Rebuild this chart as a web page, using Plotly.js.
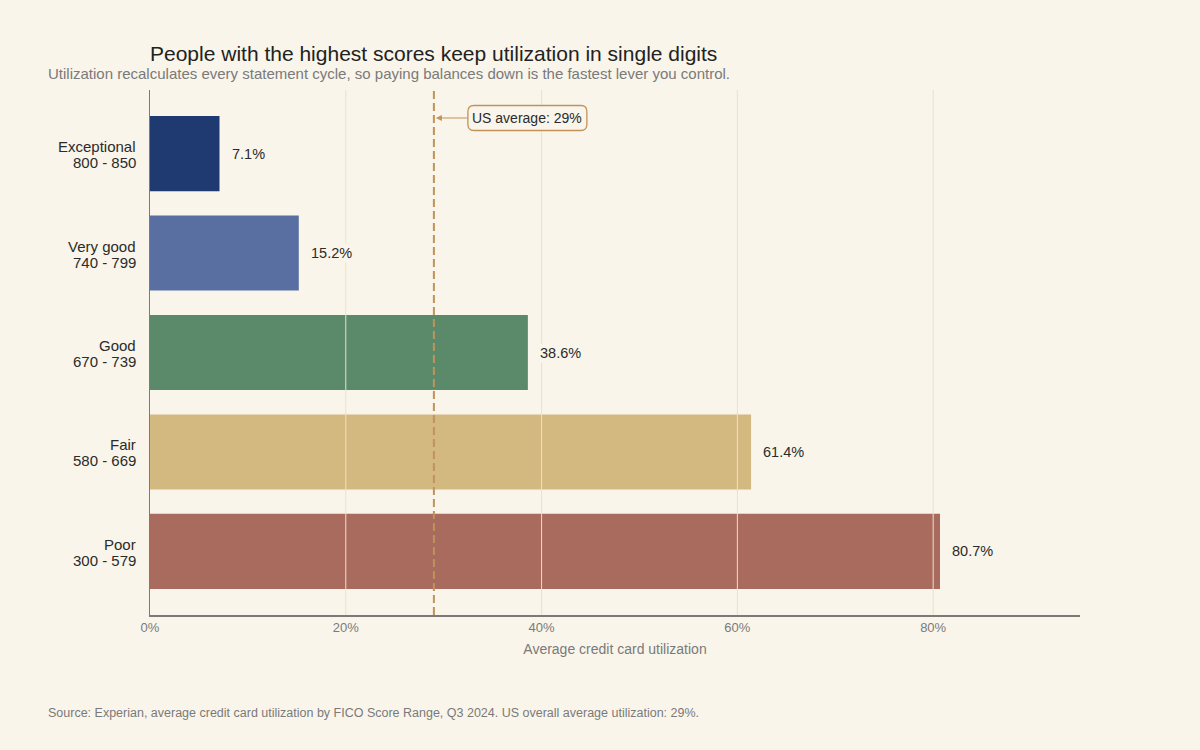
<!DOCTYPE html>
<html>
<head>
<meta charset="utf-8">
<script src="https://cdn.plot.ly/plotly-3.0.1.min.js"></script>
<style>
  html, body { margin: 0; padding: 0; background: #f9f5ea; }
  #chart { width: 1200px; height: 750px; }
</style>
</head>
<body>
<div id="chart"></div>
<script>
// FICO score bands and their average credit card utilization (%)
const bands = ["Exceptional", "Very good", "Good", "Fair", "Poor"];
const ranges = ["800 - 850", "740 - 799", "670 - 739", "580 - 669", "300 - 579"];
const utilization = [7.1, 15.2, 38.6, 61.4, 80.7];
const barColors = ["#1f3a70", "#5a6fa1", "#5a8a6a", "#d3b880", "#a86b5d"];
const usAverage = 29;

const xTicks = [0, 20, 40, 60, 80];
const xTickText = ["0%", "20%", "40%", "60%", "80%"];

const FONT = "Liberation Sans, Arial, Helvetica, sans-serif";
const BG = "#f9f5ea";
const ACCENT = "#c0935a";
const GRID = "#ebe2c6";
const INK = "#2b2b2b";

// plot area in pixels
const W = 1200, H = 750;
const M = { l: 150, r: 120, t: 90, b: 135 };
const PW = W - M.l - M.r, PH = H - M.t - M.b;
const px2x = px => (px - M.l) / PW;      // container px -> paper x
const py2y = py => (H - M.b - py) / PH;  // container px -> paper y

const trace = {
  type: "bar",
  orientation: "h",
  x: utilization,
  y: bands,
  marker: { color: barColors, line: { width: 0 } },
  hoverinfo: "skip",
  showlegend: false
};

// value labels to the right of each bar
const valueNotes = utilization.map((v, i) => ({
  x: v, y: bands[i], xref: "x", yref: "y",
  text: v.toFixed(1) + "%",
  showarrow: false, xanchor: "left", xshift: 10,
  font: { family: FONT, size: 14.5, color: INK },
  bgcolor: BG
}));

// two-line category labels (band name over score range), set tighter than tick text
const catNotes = [];
bands.forEach((b, i) => {
  catNotes.push({
    x: 0, y: b, xref: "paper", yref: "y", text: b,
    showarrow: false, xanchor: "right", yanchor: "middle",
    xshift: -12, yshift: 7,
    font: { family: FONT, size: 15, color: INK }
  });
  catNotes.push({
    x: 0, y: b, xref: "paper", yref: "y", text: ranges[i],
    showarrow: false, xanchor: "right", yanchor: "middle",
    xshift: -12, yshift: -9,
    font: { family: FONT, size: 15, color: INK }
  });
});

// vertical gridlines drawn over the bars
const gridShapes = xTicks.filter(t => t > 0).map(t => ({
  type: "line", xref: "x", yref: "paper",
  x0: t, x1: t, y0: 0, y1: 1,
  line: { color: GRID, width: 1 },
  layer: "above"
}));

const layout = {
  width: W, height: H,
  paper_bgcolor: BG, plot_bgcolor: BG,
  margin: M,
  font: { family: FONT },
  bargap: 0.245,
  title: {
    text: "People with the highest scores keep utilization in single digits",
    font: { family: FONT, size: 21, color: "#222222" },
    x: 0, xanchor: "left", xref: "paper",
    y: 1 - 54 / H, yanchor: "middle", yref: "container"
  },
  xaxis: {
    range: [0, 95],
    tickvals: xTicks, ticktext: xTickText,
    tickfont: { family: FONT, size: 13, color: "#7a7a7a" },
    showgrid: false,
    zeroline: false,
    showline: true, linecolor: "#7a7a7a", linewidth: 1.5,
    ticks: "", ticklen: 0,
    fixedrange: true,
    title: {
      text: "Average credit card utilization",
      font: { family: FONT, size: 14, color: "#7a7a7a" },
      standoff: 10
    }
  },
  yaxis: {
    autorange: false,
    range: [4.64, -0.64],
    showgrid: false, zeroline: false,
    showline: true, linecolor: "#7a7a7a", linewidth: 1.5,
    showticklabels: false,
    ticks: "",
    fixedrange: true
  },
  shapes: gridShapes.concat([
    {
      type: "line", xref: "x", yref: "paper",
      x0: usAverage, x1: usAverage, y0: 0, y1: 1,
      line: { color: ACCENT, width: 2, dash: "8px,4px" },
      layer: "above"
    },
    // rounded frame behind the average callout
    {
      type: "path", xref: "x", yref: "paper",
      xsizemode: "pixel", ysizemode: "pixel",
      xanchor: usAverage, yanchor: py2y(118),
      path: "M 40 -12.5 L 147 -12.5 Q 153 -12.5 153 -6.5 L 153 6.5 Q 153 12.5 147 12.5 " +
            "L 40 12.5 Q 34 12.5 34 6.5 L 34 -6.5 Q 34 -12.5 40 -12.5 Z",
      fillcolor: BG, line: { color: ACCENT, width: 1.3 },
      layer: "above"
    }
  ]),
  annotations: [
    {
      x: usAverage, y: py2y(118), xref: "x", yref: "paper",
      text: "US average: " + usAverage + "%",
      showarrow: true, arrowhead: 2, arrowsize: 1, arrowwidth: 1.2,
      arrowcolor: ACCENT, ax: 93.5, ay: 0, standoff: 2,
      font: { family: FONT, size: 14, color: INK },
      bgcolor: "rgba(0,0,0,0)", borderwidth: 0, borderpad: 5
    },
    {
      x: px2x(46), y: py2y(74), xref: "paper", yref: "paper",
      text: "Utilization recalculates every statement cycle, so paying balances down is the fastest lever you control.",
      showarrow: false, xanchor: "left", yanchor: "middle",
      font: { family: FONT, size: 15, color: "#7a7a7a" }
    },
    {
      x: px2x(46), y: py2y(713), xref: "paper", yref: "paper",
      text: "Source: Experian, average credit card utilization by FICO Score Range, Q3 2024. US overall average utilization: 29%.",
      showarrow: false, xanchor: "left", yanchor: "middle",
      font: { family: FONT, size: 12.5, color: "#7a7a7a" }
    }
  ].concat(catNotes, valueNotes)
};

Plotly.newPlot("chart", [trace], layout, { displayModeBar: false, staticPlot: true });
</script>
</body>
</html>
